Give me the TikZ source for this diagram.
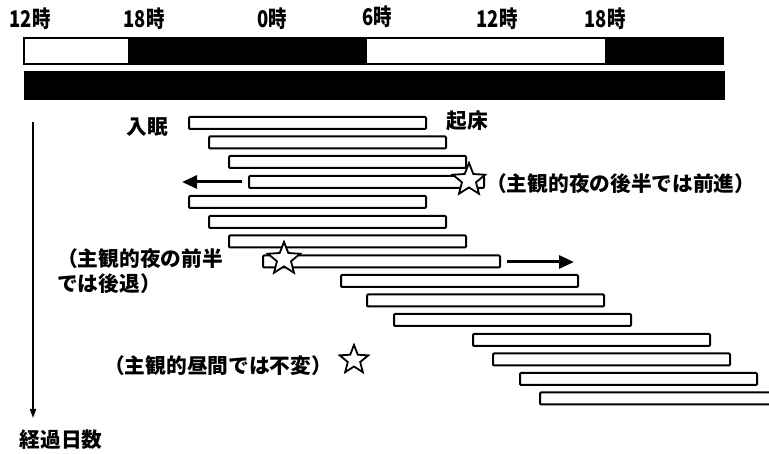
\documentclass[tikz,border=0pt]{standalone}
\usepackage{fontspec}
\setmainfont{Noto Sans CJK JP}
\usetikzlibrary{shapes.geometric,arrows.meta}
\begin{document}
\begin{tikzpicture}[x=1pt,y=-1pt,
  sleepbar/.style={draw,line width=2pt,rounded corners=1pt,minimum height=12pt,inner sep=0pt,anchor=west,fill=white},
  startxt/.style={star,star points=5,star point ratio=2.3,draw,line width=1.8pt,minimum size=34pt,inner sep=0pt,fill=white},
  lbl/.style={font=\bfseries\fontsize{20.7}{25}\selectfont,inner sep=0pt},
  tlbl/.style={font=\bfseries\fontsize{23}{25}\selectfont,inner sep=0pt},
  shiftarrow/.style={line width=3pt,-{Triangle[length=15pt,width=13pt]}}
]
\useasboundingbox (0,0) rectangle (769,454);
% time labels
\node[tlbl] (t1) at (30,19) {\scalebox{0.8}[1]{12時}};
\node[tlbl] (t2) at (144,19) {\scalebox{0.8}[1]{18時}};
\node[tlbl] (t3) at (272,19) {\scalebox{0.8}[1]{0時}};
\node[tlbl] (t4) at (377,17) {\scalebox{0.8}[1]{6時}};
\node[tlbl] (t5) at (497,19) {\scalebox{0.8}[1]{12時}};
\node[tlbl] (t6) at (605,19) {\scalebox{0.8}[1]{18時}};
% light-dark bar
\fill[black] (128,38) rectangle (367,64);
\fill[black] (605,38) rectangle (723,64);
\draw[line width=1.4pt] (24,38) rectangle (723,64);
% constant dark bar
\fill[black] (24,71) rectangle (725,100);
% axis
\coordinate (ax1) at (33,122);
\coordinate (ax2) at (33,418);
\draw[line width=1.6pt,-{Triangle[length=9pt,width=6pt]}] (ax1) -- (ax2);
\node[lbl] (days) at (61,440) {経過日数};
% sleep bars
\node[sleepbar,minimum width=237pt] (r1) at (188,123) {};
\node[sleepbar,minimum width=237pt] (r2) at (208,142.5) {};
\node[sleepbar,minimum width=237pt] (r3) at (228,162) {};
\node[sleepbar,minimum width=235pt] (r4) at (248,182) {};
\node[sleepbar,minimum width=237pt] (r5) at (188,202) {};
\node[sleepbar,minimum width=237pt] (r6) at (208,222) {};
\node[sleepbar,minimum width=237pt] (r7) at (228,241.5) {};
\node[sleepbar,minimum width=237pt] (r8) at (262,261.5) {};
\node[sleepbar,minimum width=237pt] (r9) at (340,281) {};
\node[sleepbar,minimum width=237pt] (r10) at (366,300.5) {};
\node[sleepbar,minimum width=237pt] (r11) at (393,320) {};
\node[sleepbar,minimum width=237pt] (r12) at (472,340) {};
\node[sleepbar,minimum width=237pt] (r13) at (492,359.5) {};
\node[sleepbar,minimum width=237pt] (r14) at (519,379) {};
\node[sleepbar,minimum width=237pt] (r15) at (539,398.5) {};
% labels
\node[lbl] (sleepon) at (147,127) {入眠};
\node[lbl] (wake) at (467,121) {起床};
% stars
\node[startxt] (s1) at (469,180) {};
\node[startxt] (s2) at (284,259) {};
\node[startxt,minimum size=30pt] (s3) at (354,360) {};
% star labels
\node[lbl,anchor=west] (l1) at (486,184) {（主観的夜の後半では前進）};
\node[lbl,anchor=west,align=left] (l2) at (57,271) {（主観的夜の前半\\では後退）};
\node[lbl,anchor=west] (l3) at (104,366) {（主観的昼間では不変）};
% shift arrows
\coordinate (a1end) at (182,182);
\draw[shiftarrow] ([xshift=-6pt]r4.west) -- (a1end);
\coordinate (a2end) at (574,262);
\draw[shiftarrow] ([xshift=6pt]r8.east |- 0,262) -- (a2end);
\end{tikzpicture}
\end{document}
